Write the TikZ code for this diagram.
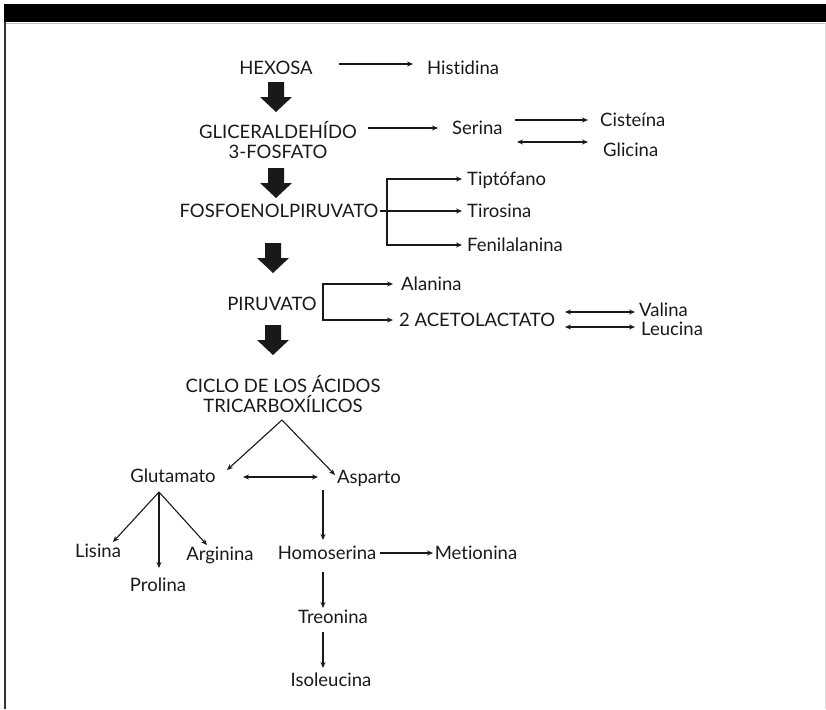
\documentclass[tikz,border=0pt]{standalone}
\usepackage{fontspec}
\setmainfont{Lato}[Ligatures=NoCommon]
\usetikzlibrary{arrows.meta}
\begin{document}
\begin{tikzpicture}[>={Stealth[length=6pt,width=5pt]},x=1pt,y=-1pt,
    every node/.style={inner sep=2pt,font=\fontsize{18.5}{20.5}\selectfont,text=black!90},
    txt/.style={text height=15pt,text depth=2pt},
    line/.style={line width=1.1pt,black!90}]
\useasboundingbox (0,0) rectangle (826,709);
% frame
\fill (4,4) rectangle (826,22.5);
\draw[black!25,line width=0.8pt] (4,23) -- (826,23);
\draw[black!80,line width=2pt] (5,22) -- (5,709);
\draw[black!15,line width=0.6pt] (825.5,23) -- (825.5,709);

% main route
\node[txt] (hex) at (276,68) {HEXOSA};
\node[align=center] (gli) at (278,140) {GLICERALDEHÍDO\\3-FOSFATO};
\node[txt] (fos) at (279,211) {FOSFOENOLPIRUVATO};
\node[txt] (pir) at (272,304) {PIRUVATO};
\node[align=center] (cic) at (283,394) {CICLO DE LOS ÁCIDOS\\TRICARBOXÍLICOS};
\foreach \x/\y in {276/82,276/168,273/243,273/325}
{
    \fill[black!90] (\x-8,\y)--(\x+8,\y)--(\x+8,\y+15)--(\x+16,\y+15)--(\x,\y+30)
        --(\x-16,\y+15)--(\x-8,\y+15)--cycle;
}

% amino acids
\node[txt,anchor=west] (his) at (425,68) {Histidina};
\node[txt,anchor=west] (ser) at (450,128) {Serina};
\node[txt,anchor=west] (cis) at (598,120) {Cisteína};
\node[txt,anchor=west] (gly) at (601,150) {Glicina};
\node[txt,anchor=west] (tip) at (465,179) {Tiptófano};
\node[txt,anchor=west] (tir) at (465,211) {Tirosina};
\node[txt,anchor=west] (fen) at (465,245) {Fenilalanina};
\node[txt,anchor=west] (ala) at (399,284) {Alanina};
\node[txt,anchor=west] (ace) at (397,320) {2 ACETOLACTATO};
\node[txt,anchor=west,inner sep=0pt,text depth=0pt] (val) at (639,309) {Valina};
\node[txt,anchor=west,inner sep=0pt,text height=13pt] (leu) at (641,330) {Leucina};
\node[txt] (glu) at (173,476) {Glutamato};
\node[txt] (asp) at (369,477) {Asparto};
\node[txt] (lis) at (98,551) {Lisina};
\node[txt] (pro) at (158,585) {Prolina};
\node[txt] (arg) at (220,554) {Arginina};
\node[txt] (hom) at (327,553) {Homoserina};
\node[txt] (met) at (476,553) {Metionina};
\node[txt] (tre) at (333,617) {Treonina};
\node[txt] (iso) at (331,680) {Isoleucina};

\draw[line,->] ([shift={(63,-4)}]hex.center)--([shift={(-12,-4)}]his.west);
\draw[line,->] ([xshift=90pt]gli.center |- ser.west)--([xshift=-12pt]ser.west);
\draw[line,->] ([xshift=65pt]ser.west |- cis.west)--([xshift=-10pt]cis.west);
\draw[line,<->] ([shift={(67,-8)}]ser.west |- gly.west)--([shift={(-13,-8)}]gly.west);

\coordinate (fk) at (387,245);
\draw[line,<->,shorten <=3pt,shorten >=3pt] (tip.west) -| (fk) |- (fen.west);
\draw[line,->,shorten >=3pt] ([xshift=101pt]fos.center)--(tir.west);

\coordinate (pk) at (323,320);
\draw[line,<->,shorten <=6pt,shorten >=4pt] (ala.west) -| (pk) |- (ace.west);
\draw[line,<->] ([shift={(168,3)}]ace.west |- val.west)--([shift={(-4,3)}]val.west);
\draw[line,<->] ([shift={(168,-3)}]ace.west |- leu.west)--([shift={(-6,-3)}]leu.west);

\coordinate (cv) at ([shift={(-1,26)}]cic.center);
\draw[line,->] (cv)--([shift={(54,-6)}]glu.center);
\draw[line,->] (cv)--([shift={(-34,-2)}]asp.center);
\draw[line,<->] ([shift={(70,1)}]glu.center)--([xshift=-51pt]asp.center);

\coordinate (gv) at ([shift={(-14,16)}]glu.center);
\draw[line,->] (gv)--([shift={(15,-9)}]lis.center);
\draw[line,->] (gv)--([shift={(1,-17)}]pro.center);
\draw[line,->] (gv)--([shift={(-13,-9)}]arg.center);

\draw[line,->] ([shift={(-4,13)}]hom.center |- asp.center)--([shift={(-4,-13)}]hom.center);
\draw[line,->] ([xshift=53pt]hom.center)--([xshift=-43pt]met.center);
\draw[line,->] ([shift={(-4,19)}]hom.center)--([shift={(-4,-9)}]hom.center |- tre.center);
\draw[line,->] ([shift={(-4,15)}]hom.center |- tre.center)--([shift={(-4,-12)}]hom.center |- iso.center);

\end{tikzpicture}
\end{document}
